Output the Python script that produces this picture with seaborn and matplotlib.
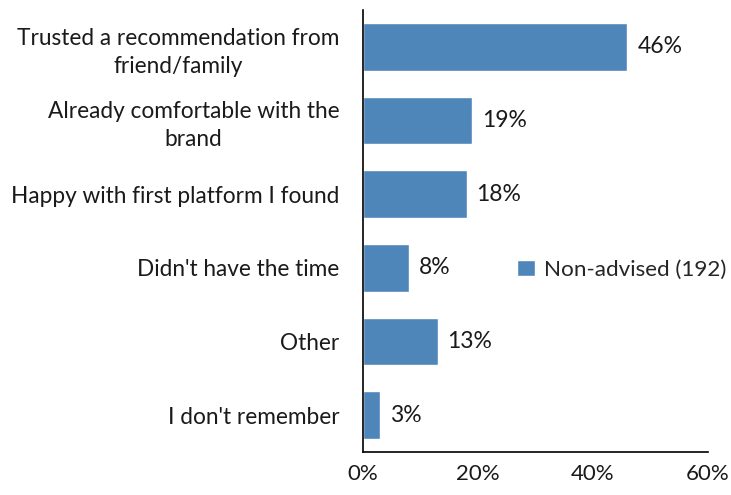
import matplotlib
matplotlib.use("Agg")
import matplotlib.pyplot as plt
import seaborn as sns
import pandas as pd

# --- data ---
reasons = [
    "Trusted a recommendation from\nfriend/family",
    "Already comfortable with the\nbrand",
    "Happy with first platform I found",
    "Didn't have the time",
    "Other",
    "I don't remember",
]
share = [46, 19, 18, 8, 13, 3]
series_name = "Non-advised (192)"
xticks = [0, 20, 40, 60]

df = pd.DataFrame({"reason": reasons, "share": share, "group": series_name})

sns.set_style("white")
plt.rcParams["font.family"] = ["Lato", "DejaVu Sans"]

fig = plt.figure(figsize=(7.31, 4.95), dpi=100)
ax = fig.add_axes([0.4966, 0.0869, 0.4719, 0.8929])

bar_color = "#4f86b9"
sns.barplot(data=df, x="share", y="reason", hue="group", palette=[bar_color],
            width=0.65, ax=ax, orient="h", saturation=1)

for p, v in zip(ax.patches, share):
    ax.text(p.get_width() + 1.7, p.get_y() + p.get_height() / 2, f"{v}%",
            va="center", ha="left", fontsize=16.5, color="#1a1a1a")

ax.set_xlim(0, 60)
ax.set_xticks(xticks)
ax.set_xticklabels([f"{t}%" for t in xticks], fontsize=16, color="#1a1a1a")
ax.tick_params(axis="x", length=0, pad=9)
ax.tick_params(axis="y", length=0, pad=17)
for lab in ax.get_yticklabels():
    lab.set_fontsize(16.3)
    lab.set_color("#1a1a1a")
    lab.set_multialignment("center")
    lab.set_linespacing(1.4)
ax.set_xlabel("")
ax.set_ylabel("")

for s in ["top", "right"]:
    ax.spines[s].set_visible(False)
for s in ["left", "bottom"]:
    ax.spines[s].set_color("black")
    ax.spines[s].set_linewidth(1.2)

leg = ax.legend(loc="center left", bbox_to_anchor=(0.446, 0.412), frameon=False,
                fontsize=16.2, handlelength=0.8, handleheight=0.7, handletextpad=0.4,
                borderpad=0, borderaxespad=0)

fig.savefig("out.png", dpi=100)
